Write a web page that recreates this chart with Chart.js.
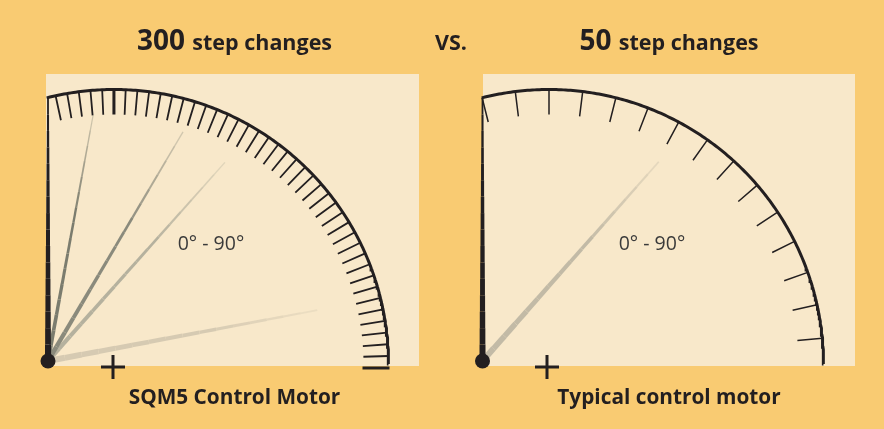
<!DOCTYPE html>
<html lang="en">
<head>
  <meta charset="UTF-8" />
  <title>300 vs 50 step changes</title>
  <script src="https://cdn.jsdelivr.net/npm/chart.js"></script>
  <style>
    body {
      margin: 0;
      background-color: #f9cb72;
      font-family: 'Open Sans', sans-serif;
      color: #231f20;
    }
    #wrap {
      position: relative;
      width: 884px;
      height: 429px;
      overflow: hidden;
    }
    .panel {
      position: absolute;
      top: 74px;
      height: 292px;
      background-color: #f8e8ca;
    }
    #gauges {
      position: absolute;
      left: 0;
      top: 0;
    }
    .label {
      position: absolute;
      transform: translateX(-50%);
      white-space: nowrap;
      line-height: 1;
      font-weight: 700;
    }
    .title { font-size: 28px; top: 25px; }
    .title .word { font-size: 21.5px; }
    .motor { font-size: 20.8px; top: 386px; }
    .range {
      font-size: 19.5px;
      font-weight: 400;
      color: #3a3a3a;
      top: 233px;
    }
  </style>
</head>
<body>
  <div id="wrap">
    <div class="panel" style="left:46px; width:373px;"></div>
    <div class="panel" style="left:483px; width:372px;"></div>
    <canvas id="gauges" width="884" height="429"></canvas>
  </div>

  <script>
    // --- values ---
    const stepCounts = [300, 50];
    const stepWord = 'step changes';
    const versusLabel = 'VS.';
    const motorLabels = ['SQM5 Control Motor', 'Typical control motor'];
    const rangeLabel = '0° - 90°';

    // scale marks on each dial (degrees): first mark, spacing, number of marks
    const tickStart = [1.67, 5.4];
    const tickStep = [2.454, 7.05];
    const tickCount = [42, 15];

    // needle positions (degrees) and lengths for each dial
    const needleAnglesLeft = [90, 79.6, 59.5, 48.3, 10.7];
    const needleLengthsLeft = [263, 250, 266, 266, 274];
    const needleAnglesRight = [90, 48.5];
    const needleLengthsRight = [263, 266];

    // --- layout (pixel space of the chart scales) ---
    const W = 884, H = 429;
    const arcCenterX = [114, 549];
    const arcCenterY = 364;
    const arcRadius = 274.5;
    const arcSweep = 104.2;
    const tickLength = 25;
    const pivotX = [48, 482.5];
    const pivotY = 361;
    const crossX = [113, 547];
    const titleX = [234.5, 669];
    const versusX = 451;
    const rangeX = [211, 652];
    const ink = '#231f20';

    const needleColorsLeft = ['#231f20', '#7b7c6e', '#8a8a7c', '#b5b19e', '#d6cab2'];
    const needleWidthsLeft = [6, 4, 4.5, 4.5, 6];
    const needleColorsRight = ['#231f20', '#c2baa6'];
    const needleWidthsRight = [6, 6];

    // --- text ---
    const wrap = document.getElementById('wrap');
    function addLabel(cls, x, html) {
      const d = document.createElement('div');
      d.className = 'label ' + cls;
      d.style.left = x + 'px';
      d.innerHTML = html;
      wrap.appendChild(d);
    }
    stepCounts.forEach((n, i) => {
      addLabel('title', titleX[i], n + ' <span class="word">' + stepWord + '</span>');
      addLabel('motor', titleX[i], motorLabels[i]);
      addLabel('range', rangeX[i], rangeLabel);
    });
    addLabel('title', versusX, '<span class="word">' + versusLabel + '</span>');

    // --- geometry helpers ---
    function polar(cx, cy, r, deg) {
      const t = deg * Math.PI / 180;
      return { x: cx + r * Math.cos(t), y: cy - r * Math.sin(t) };
    }
    function hexToRgba(hex, a) {
      const v = parseInt(hex.slice(1), 16);
      return 'rgba(' + (v >> 16) + ',' + ((v >> 8) & 255) + ',' + (v & 255) + ',' + a + ')';
    }

    const datasets = [];
    const base = { showLine: true, pointRadius: 0, fill: false, tension: 0 };

    // pivots, "+" and "-" marks (first datasets are drawn on top)
    datasets.push({
      data: pivotX.map(x => ({ x: x, y: pivotY })),
      pointRadius: 7.5, backgroundColor: ink, borderWidth: 0, showLine: false
    });
    datasets.push({
      data: crossX.map(x => ({ x: x, y: 367 })),
      pointStyle: 'cross', pointRadius: 12, borderWidth: 3, borderColor: ink, showLine: false
    });
    datasets.push({
      data: [{ x: 376, y: 368 }],
      pointStyle: 'line', pointRadius: 13.5, borderWidth: 3, borderColor: ink, showLine: false
    });

    // needles, tapering and fading toward the tip
    function addNeedles(g, angles, lengths, colors, widths) {
      angles.forEach((a, i) => {
        const pts = [];
        const n = 16;
        for (let k = 0; k <= n; k++) {
          pts.push(polar(pivotX[g], pivotY, lengths[i] * k / n, a));
        }
        const dark = colors[i] === ink;
        datasets.push(Object.assign({}, base, {
          data: pts,
          borderColor: colors[i],
          borderCapStyle: 'butt',
          segment: {
            borderWidth: ctx => widths[i] * (1 - 0.7 * ctx.p0DataIndex / (n - 1)),
            borderColor: ctx => {
              if (dark) return colors[i];
              const t = ctx.p0DataIndex / (n - 1);
              return hexToRgba(colors[i], t < 0.6 ? 1 : 1 - 1.6 * (t - 0.6));
            }
          }
        }));
      });
    }
    // vertical needles first so they sit above the grey ones
    addNeedles(0, [needleAnglesLeft[0]], [needleLengthsLeft[0]], [needleColorsLeft[0]], [needleWidthsLeft[0]]);
    addNeedles(1, [needleAnglesRight[0]], [needleLengthsRight[0]], [needleColorsRight[0]], [needleWidthsRight[0]]);
    addNeedles(0, needleAnglesLeft.slice(1), needleLengthsLeft.slice(1), needleColorsLeft.slice(1), needleWidthsLeft.slice(1));
    addNeedles(1, needleAnglesRight.slice(1), needleLengthsRight.slice(1), needleColorsRight.slice(1), needleWidthsRight.slice(1));

    // scale marks
    [0, 1].forEach(g => {
      const pts = [];
      const major = [];
      for (let k = 0; k < tickCount[g]; k++) {
        const a = tickStart[g] + k * tickStep[g];
        const seg = [polar(arcCenterX[g], arcCenterY, arcRadius, a),
                     polar(arcCenterX[g], arcCenterY, arcRadius - tickLength, a)];
        if (g === 0 && Math.abs(a - 90) < 1) {
          major.push(...seg);
        } else {
          pts.push(...seg, { x: null, y: null });
        }
      }
      datasets.push(Object.assign({}, base, {
        data: pts, spanGaps: false, borderColor: ink, borderWidth: g === 0 ? 1.8 : 1.5
      }));
      if (major.length) {
        datasets.push(Object.assign({}, base, { data: major, borderColor: ink, borderWidth: 3 }));
      }
    });

    // dial arcs
    [0, 1].forEach(g => {
      const pts = [];
      for (let a = 0; a <= arcSweep; a += 0.5) {
        pts.push(polar(arcCenterX[g], arcCenterY, arcRadius, a));
      }
      pts.push(polar(arcCenterX[g], arcCenterY, arcRadius, arcSweep));
      datasets.push(Object.assign({}, base, { data: pts, borderColor: ink, borderWidth: 3 }));
    });

    new Chart(document.getElementById('gauges'), {
      type: 'scatter',
      data: { datasets: datasets },
      options: {
        responsive: false,
        animation: false,
        events: [],
        layout: { padding: 0, autoPadding: false },
        scales: {
          x: { type: 'linear', min: 0, max: W, display: false },
          y: { type: 'linear', min: 0, max: H, reverse: true, display: false }
        },
        plugins: {
          legend: { display: false },
          tooltip: { enabled: false }
        }
      }
    });
  </script>
</body>
</html>
